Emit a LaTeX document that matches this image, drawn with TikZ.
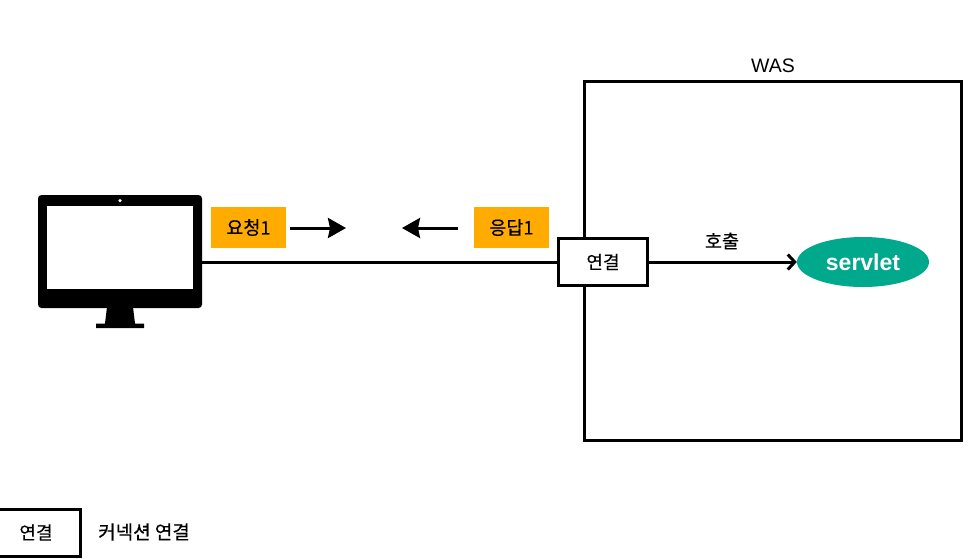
\documentclass[tikz,border=0pt]{standalone}
\usepackage{fontspec}
\setmainfont{Liberation Sans}
\newfontfamily\kr[FakeBold=0.3]{Noto Sans CJK KR}
\usetikzlibrary{arrows.meta,shapes.geometric}
\definecolor{tagorange}{HTML}{FFAB00}
\definecolor{servletgreen}{HTML}{00A98B}
\tikzset{
  x=1pt,y=-1pt,
  frame/.style={draw=black,line width=3pt,fill=white,inner sep=0pt},
  tag/.style={fill=tagorange,minimum width=75pt,minimum height=41pt,inner sep=0pt,font=\kr\fontsize{18.5}{18.5}\selectfont},
  conn/.style={frame,minimum width=89pt,minimum height=47pt,font=\kr\fontsize{18}{18}\selectfont},
  label/.style={inner sep=0pt,font=\kr\fontsize{18.5}{18.5}\selectfont},
  wire/.style={line width=3pt,draw=black},
  flow/.style={line width=3pt,draw=black,-{Triangle[length=18pt,width=20pt,inset=2pt]}}
}
\begin{document}
\begin{tikzpicture}
\useasboundingbox (0,0) rectangle (974,558);
% WAS
\node[frame,minimum width=377pt,minimum height=359pt] (was) at (773,261) {};
\node[inner sep=0pt,font=\fontsize{19.5}{19.5}\selectfont] (waslabel) at (773,65.5) {WAS};
% monitor
\node[fill=black,rounded corners=3.5pt,minimum width=164pt,minimum height=113pt,inner sep=0pt] (monitor) at (120,251.5) {};
\node[fill=white,minimum width=146pt,minimum height=83pt,inner sep=0pt] (screen) at (120,247.5) {};
\node[circle,fill=white,minimum size=3.5pt,inner sep=0pt] (camera) at (120,200.5) {};
\fill[black] (107,307) -- (133,307) -- (135,323.5) -- (144,323.5) -- (144,328) -- (96,328) -- (96,323.5) -- (105,323.5) -- cycle;
% tags
\node[tag] (req) at (248.5,227.5) {요청1};
\node[tag] (res) at (511.5,227.5) {응답1};
\coordinate (reqs) at (290,228);
\coordinate (reqe) at (346,228);
\coordinate (ress) at (458,228);
\coordinate (rese) at (402,228);
\draw[flow] (reqs) -- (reqe);
\draw[flow] (ress) -- (rese);
% servlet + connection
\node[ellipse,fill=servletgreen,text=white,minimum width=132pt,minimum height=50pt,inner sep=0pt,font=\bfseries\fontsize{23}{23}\selectfont] (servlet) at (863,262) {servlet};
\node[conn] (conn) at (603,262) {연결};
\draw[wire] (monitor.east |- conn.west) -- (conn.west);
\draw[wire,-{Straight Barb[length=7pt,width=15pt,line width=3pt]}] (conn.east) -- (servlet.west);
\node[label] (call) at (722,241) {호출};
% legend
\node[conn] (legend) at (36,532.5) {연결};
\node[label,anchor=west,font=\kr\fontsize{19}{19}\selectfont] (legendtext) at (98,532) {커넥션 연결};
\end{tikzpicture}
\end{document}
